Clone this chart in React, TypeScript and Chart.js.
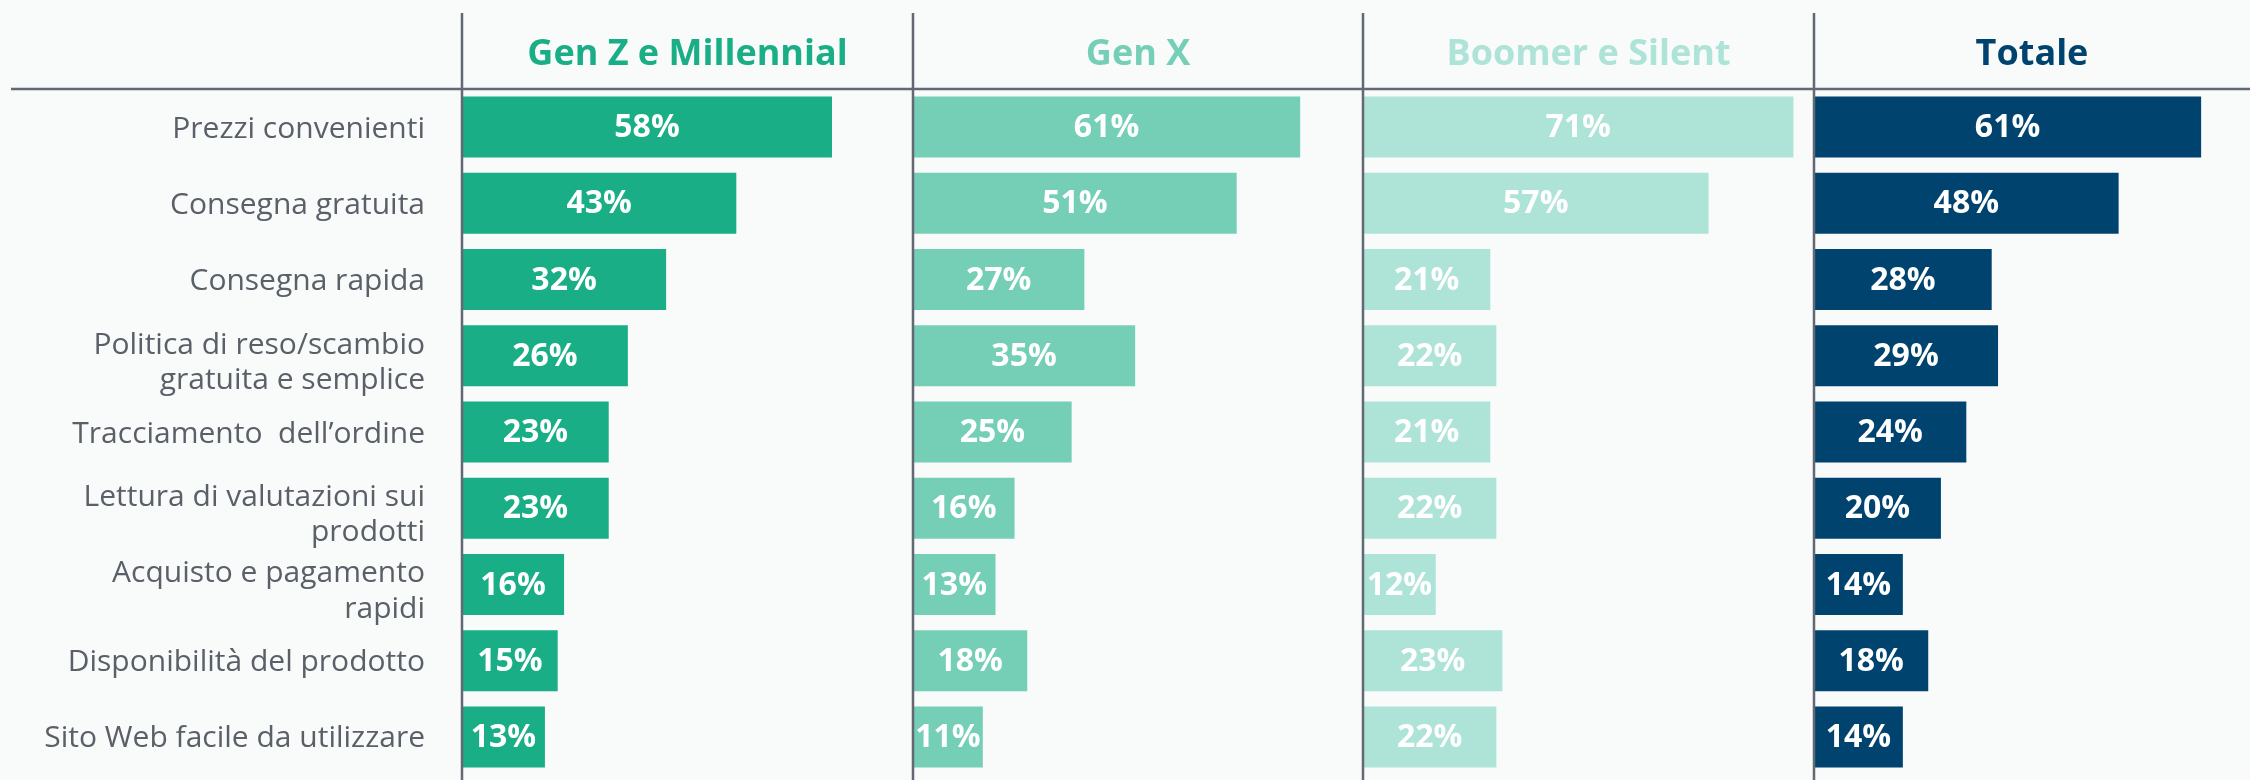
import React, { useEffect, useRef } from "react";
import { Chart, registerables } from "chart.js";

Chart.register(...registerables);

const categories: (string | string[])[] = [
  "Prezzi convenienti",
  "Consegna gratuita",
  "Consegna rapida",
  ["Politica di reso/scambio", "gratuita e semplice"],
  "Tracciamento  dell’ordine",
  ["Lettura di valutazioni sui", "prodotti"],
  ["Acquisto e pagamento", "rapidi"],
  "Disponibilità del prodotto",
  "Sito Web facile da utilizzare",
];

const seriesNames = ["Gen Z e Millennial", "Gen X", "Boomer e Silent", "Totale"];
const genZMillennial = [58, 43, 32, 26, 23, 23, 16, 15, 13];
const genX = [61, 51, 27, 35, 25, 16, 13, 18, 11];
const boomerSilent = [71, 57, 21, 22, 21, 22, 12, 23, 22];
const totale = [61, 48, 28, 29, 24, 20, 14, 18, 14];

const seriesColors = ["#19ae86", "#75cfb6", "#aee3d7", "#00436e"];
const axisMax = [70.7, 70.9, 74.4, 68.7];
const panelWeights = [451, 450, 451, 436];
const xIds = ["x0", "x1", "x2", "x3"];

const FONT = "'Open Sans', 'Noto Sans', sans-serif";

const decorPlugin = {
  id: "decor",
  beforeDraw(chart: any) {
    // nudge category labels slightly downward (multi-line ones a bit more)
    const s = chart.scales.y;
    if (!s || typeof s.getLabelItems !== "function") return;
    const items = s.getLabelItems(chart.chartArea);
    items.forEach((it: any) => {
      if (it.__nudged || !it.options || !it.options.translation) return;
      it.options.translation[1] += Array.isArray(it.label) ? 7 : 2;
      it.__nudged = true;
    });
  },
  afterDatasetsDraw(chart: any) {
    const ctx = chart.ctx as CanvasRenderingContext2D;
    const area = chart.chartArea;
    ctx.save();
    // value labels
    ctx.font = `bold 32px ${FONT}`;
    ctx.fillStyle = "#ffffff";
    ctx.textAlign = "center";
    ctx.textBaseline = "middle";
    chart.data.datasets.forEach((ds: any, di: number) => {
      const meta = chart.getDatasetMeta(di);
      meta.data.forEach((el: any, i: number) => {
        const p = el.getProps(["x", "y", "base"], true);
        ctx.fillText(`${ds.data[i]}%`, (p.x + p.base) / 2, p.y + 1);
      });
    });
    // lines
    ctx.strokeStyle = "#626973";
    ctx.lineWidth = 2.5;
    ctx.beginPath();
    ctx.moveTo(11, area.top);
    ctx.lineTo(chart.width, area.top);
    ctx.stroke();
    xIds.forEach((id) => {
      const s = chart.scales[id];
      ctx.beginPath();
      ctx.moveTo(s.left, 13);
      ctx.lineTo(s.left, chart.height);
      ctx.stroke();
    });
    // headers
    ctx.font = `bold 36px ${FONT}`;
    xIds.forEach((id, i) => {
      const s = chart.scales[id];
      ctx.fillStyle = seriesColors[i];
      ctx.fillText(seriesNames[i], (s.left + s.right) / 2, 55);
    });
    ctx.restore();
  },
};

export default function App() {
  const ref = useRef<HTMLCanvasElement | null>(null);

  useEffect(() => {
    if (!ref.current) return;
    const values = [genZMillennial, genX, boomerSilent, totale];
    const scales: any = {
      y: {
        type: "category",
        position: "left",
        grid: { display: false, drawTicks: false },
        border: { display: false },
        ticks: {
          color: "#5a6068",
          padding: 37,
          font: { family: FONT, size: 30, lineHeight: 1.17 },
        },
        afterFit: (scale: any) => {
          scale.width = 462;
          scale.paddingTop = 0;
          scale.paddingBottom = 0;
        },
      },
    };
    xIds.forEach((id, i) => {
      scales[id] = {
        type: "linear",
        position: "bottom",
        stack: "panels",
        stackWeight: panelWeights[i],
        min: 0,
        max: axisMax[i],
        display: false,
        grid: { display: false },
      };
    });
    const chart = new Chart(ref.current, {
      type: "bar",
      data: {
        labels: categories,
        datasets: values.map((v, i) => ({
          label: seriesNames[i],
          data: v,
          xAxisID: xIds[i],
          yAxisID: "y",
          backgroundColor: seriesColors[i],
          borderWidth: 0,
          grouped: false,
          barPercentage: 0.8,
          categoryPercentage: 1,
        })),
      },
      options: {
        indexAxis: "y",
        animation: false,
        responsive: false,
        maintainAspectRatio: false,
        layout: { padding: { top: 89, bottom: 5, left: 0, right: 0 } },
        plugins: {
          legend: { display: false },
          tooltip: { enabled: false },
          title: { display: false },
        },
        scales,
      },
      plugins: [decorPlugin],
    } as any);
    return () => chart.destroy();
  }, []);

  return (
    <div
      style={{
        position: "absolute",
        left: 0,
        top: 0,
        width: 2250,
        height: 780,
        background: "#f9fafa",
        overflow: "hidden",
      }}
    >
      <canvas ref={ref} width={2250} height={780} style={{ display: "block", width: 2250, height: 780 }} />
    </div>
  );
}
